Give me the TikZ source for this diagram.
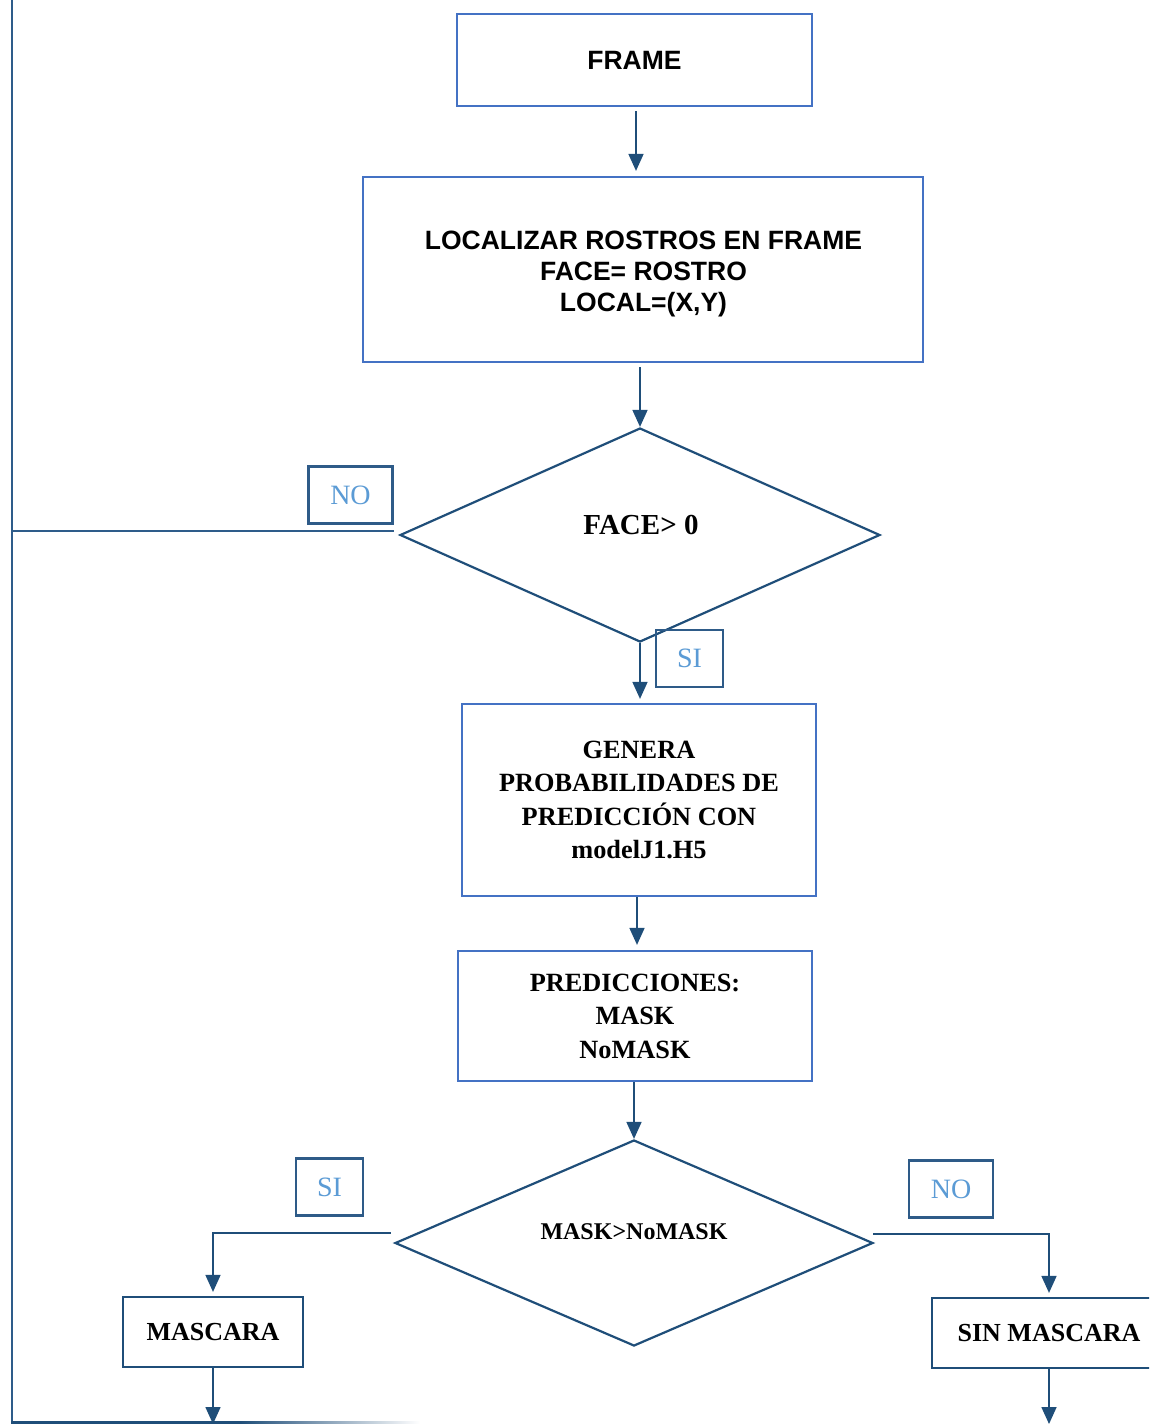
\documentclass[tikz,border=0pt]{standalone}
\usepackage{fontspec}
\setmainfont{Liberation Serif}
\newfontfamily\arial{Liberation Sans}
\usetikzlibrary{shapes.geometric,arrows.meta}

\definecolor{boxblue}{HTML}{4472C4}
\definecolor{navy}{HTML}{1F4E79}
\definecolor{tagline}{HTML}{2E5B88}
\definecolor{tagtext}{HTML}{5B9BD5}
\definecolor{loopblue}{HTML}{2E5C8A}

\begin{document}
\begin{tikzpicture}[x=1pt,y=-1pt,
  procbox/.style={draw=boxblue, line width=2.2pt, inner sep=0pt, align=center,
    font=\bfseries\fontsize{26.3}{33.5}\selectfont},
  sansfont/.style={font=\arial\bfseries\fontsize{26.5}{31}\selectfont},
  sansbox/.style={procbox, sansfont},
  endbox/.style={draw=navy, line width=2.2pt, inner sep=0pt, align=center,
    font=\bfseries\fontsize{26}{30}\selectfont},
  decision/.style={diamond, draw=navy, line width=2.2pt, inner sep=0pt},
  dtext/.style={inner sep=0pt, font=\bfseries\fontsize{#1}{#1}\selectfont},
  tagbox/.style={draw=tagline, line width=2.2pt, inner sep=0pt, text=tagtext,
    minimum width=84pt, minimum height=57pt, font=\fontsize{28}{28}\selectfont},
  flow/.style={draw=navy, line width=1.6pt},
  arrow/.style={flow, -{Triangle[length=17pt,width=15pt]}},
  loopline/.style={draw=loopblue, line width=1.6pt}
]
\clip (0,0) rectangle (1149,1424);
\fill[white] (0,0) rectangle (1149,1424);

% process boxes
\node[sansbox, minimum width=355pt, minimum height=92pt] (frame) at (634.5,60) {FRAME};
\node[sansbox, minimum width=560pt, minimum height=185pt] (loc) at (643,269.5) {};
\node[sansfont, align=center, inner sep=0pt] (loct) at (643.5,273.5)
  {LOCALIZAR ROSTROS EN FRAME\\FACE= ROSTRO\\LOCAL=(X,Y)};
\node[procbox, minimum width=354pt, minimum height=192pt] (gen) at (639,800)
  {GENERA\\PROBABILIDADES DE\\PREDICCIÓN CON\\modelJ1.H5};
\node[procbox, minimum width=354pt, minimum height=130pt] (pred) at (635,1016)
  {PREDICCIONES:\\MASK\\NoMASK};

% decisions
\node[decision, minimum width=480pt, minimum height=214pt] (d1) at (640,535) {};
\node[dtext=29] (d1t) at (641,525) {FACE> 0};
\node[decision, minimum width=478pt, minimum height=206pt] (d2) at (634,1243) {};
\node[dtext=24] (d2t) at (634,1232) {MASK>NoMASK};

% outcomes
\node[endbox, minimum width=180pt, minimum height=70pt] (masc) at (213,1332) {MASCARA};
\node[endbox, minimum width=234pt, minimum height=70pt] (sin) at (1049,1333) {SIN MASCARA};

% branch tags
\node[tagbox] (no1) at (350.5,495) {NO};
\node[tagbox, minimum width=67pt] (si1) at (689.5,658.5) {SI};
\node[tagbox, minimum width=67pt] (si2) at (329.5,1187) {SI};
\node[tagbox] (no2) at (951,1189) {NO};

% loop path coordinates
\coordinate (ltop) at (12,0);
\coordinate (lbot) at (12,1422);
\coordinate (mbot) at (213,1424);
\coordinate (sbot) at (1050,1424);

% main flow
\draw[arrow, shorten <=4pt, shorten >=5pt] (frame.south -| 636,0) -- (loc.north -| 636,0);
\draw[arrow, shorten <=4pt] (loc.south -| d1.north) -- (d1.north);
\draw[arrow, shorten >=4pt] (d1.south) -- (gen.north -| d1.south);
\draw[arrow, shorten >=5pt] (gen.south -| 637,0) -- (pred.north -| 637,0);
\draw[arrow] (pred.south -| d2.north) -- (d2.north);

% decision branches
\draw[arrow, shorten >=4pt] ([xshift=-3pt,yshift=10pt]d2.west) -| (masc.north);
\draw[arrow, shorten >=4pt] ([xshift=-1pt,yshift=9pt]d2.east) -| (sin.north);
\draw[arrow] (masc.south) -- (mbot);
\draw[arrow] (sin.south) -- (sin.south |- sbot);

% return loop
\draw[loopline] ([xshift=-5pt,yshift=4pt]d1.west) -- (ltop |- 0,531);
\draw[loopline] (ltop) -- (lbot);
\fill[navy] (11,1421) rectangle (240,1424);
\shade[left color=navy, right color=white] (240,1421) rectangle (420,1424);
\end{tikzpicture}
\end{document}
